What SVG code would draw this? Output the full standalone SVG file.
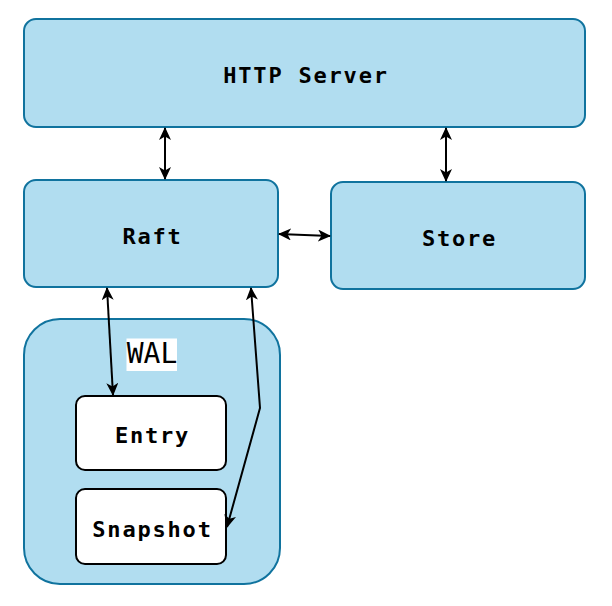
<svg xmlns="http://www.w3.org/2000/svg" width="612" height="606" viewBox="0 0 612 606">
<style>
.n{fill:#b1ddf0;stroke:#10739e;stroke-width:2}
.w{fill:#fff;stroke:#000;stroke-width:2}
.t{font-family:"DejaVu Sans Mono",monospace;font-size:22px;font-weight:bold;letter-spacing:1.8px;text-anchor:middle;fill:#000}
.c{fill:none;stroke:#000;stroke-width:2}
</style>
<defs>
<marker id="a" viewBox="0 0 13 12" refX="12" refY="6" markerWidth="13" markerHeight="12" markerUnits="userSpaceOnUse" orient="auto-start-reverse">
<path d="M0,0 L13,6 L0,12 L3.5,6 Z" fill="#000"/>
</marker>
</defs>
<rect width="612" height="606" fill="#fff"/>
<g id="http"><rect class="n" x="24" y="19" width="561" height="108" rx="12"/><text class="t" x="306" y="83">HTTP Server</text></g>
<g id="raft"><rect class="n" x="24" y="180" width="254" height="107" rx="12"/><text class="t" x="152.5" y="244">Raft</text></g>
<g id="store"><rect class="n" x="331" y="182" width="254" height="107" rx="12"/><text class="t" x="459.5" y="246">Store</text></g>
<g id="wal"><rect class="n" x="24" y="319" width="256" height="265" rx="36"/>
<rect x="126.5" y="338.5" width="50.5" height="32.5" fill="#fff"/>
<text x="152" y="363" font-family="DejaVu Sans Mono,monospace" font-size="28" text-anchor="middle">WAL</text></g>
<g id="entry"><rect class="w" x="76" y="396" width="150" height="74" rx="9"/><text class="t" x="152.5" y="443">Entry</text></g>
<g id="snapshot"><rect class="w" x="76" y="489" width="150" height="75" rx="9"/><text class="t" x="152.5" y="537">Snapshot</text></g>
<g id="connectors">
<path class="c" d="M165,128 L165,179" marker-start="url(#a)" marker-end="url(#a)"/>
<path class="c" d="M446,128 L446,181" marker-start="url(#a)" marker-end="url(#a)"/>
<path class="c" d="M279,234 L330,236" marker-start="url(#a)" marker-end="url(#a)"/>
<path class="c" d="M107,288 L113,395" marker-start="url(#a)" marker-end="url(#a)"/>
<path class="c" d="M251,288 L260,408 L227,527" marker-start="url(#a)" marker-end="url(#a)"/>
</g>
</svg>
